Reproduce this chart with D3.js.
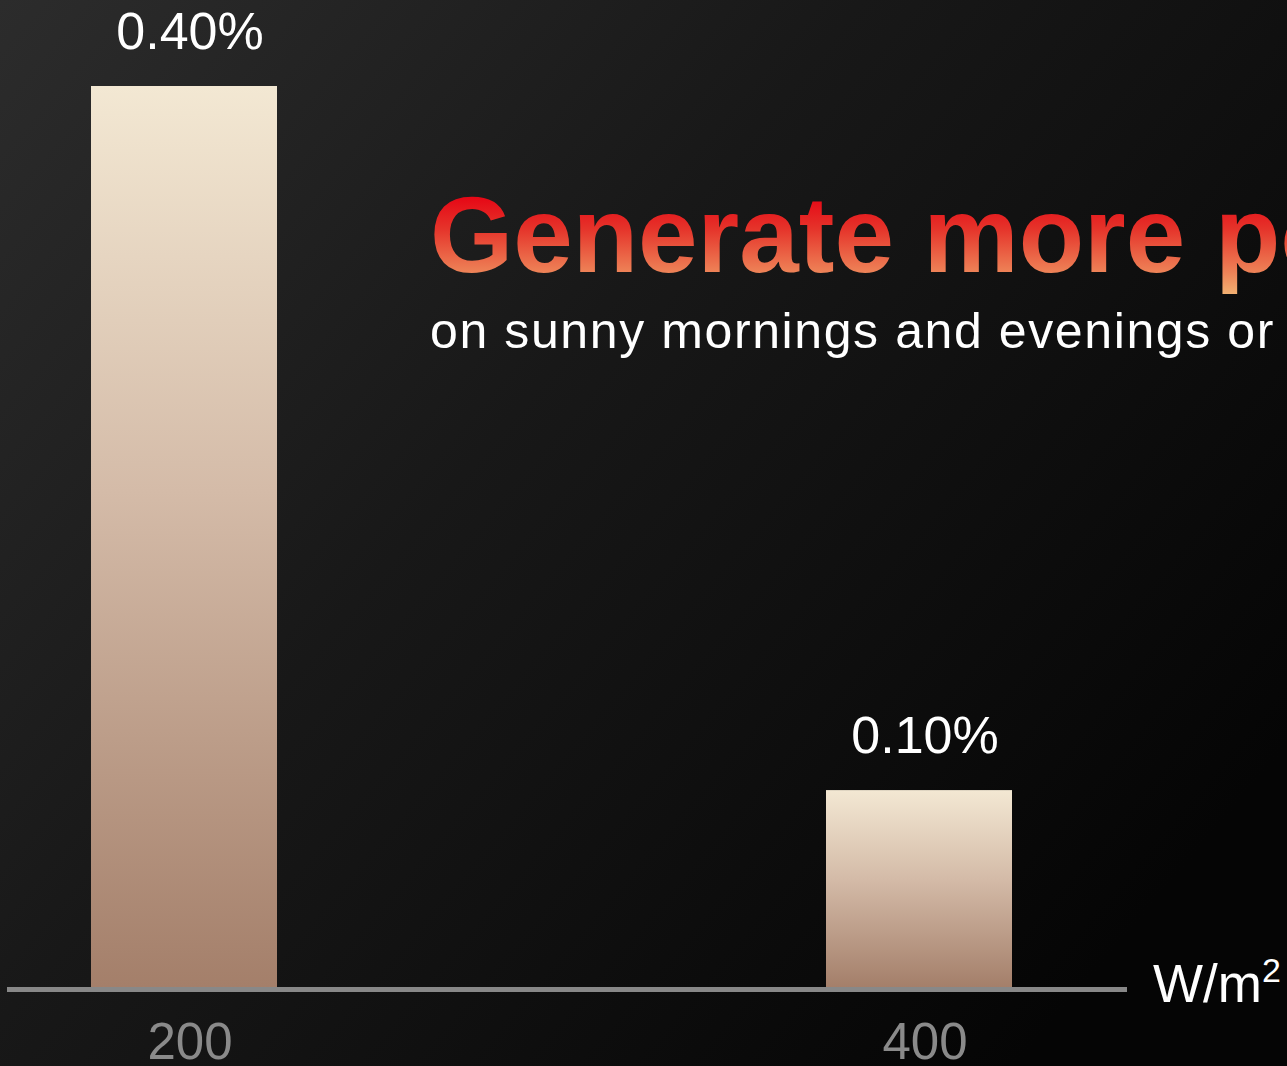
<!DOCTYPE html>
<html>
<head>
<meta charset="utf-8">
<script src="https://cdn.jsdelivr.net/npm/d3@7"></script>
<style>
  html, body { margin: 0; padding: 0; background: #111; }
  svg { display: block; font-family: "Liberation Sans", Arial, sans-serif; }
</style>
</head>
<body>
<svg width="1287" height="1066"></svg>
<script>
const categories = ["200", "400"];
const values = [0.40, 0.10];
const valueLabels = ["0.40%", "0.10%"];
const unitLabel = "W/m";
const title = "Generate more power";
const subtitle = "on sunny mornings and evenings or on cloudy days";

const svg = d3.select("svg"),
  W = 1287, H = 1066,
  baseY = 987;

const defs = svg.append("defs");

// background
const bg = defs.append("linearGradient").attr("id", "bg")
  .attr("x1", 0).attr("y1", 0).attr("x2", 1).attr("y2", 0.7);
bg.append("stop").attr("offset", 0).attr("stop-color", "#2c2c2c");
bg.append("stop").attr("offset", 0.45).attr("stop-color", "#181818");
bg.append("stop").attr("offset", 1).attr("stop-color", "#050505");
svg.append("rect").attr("width", W).attr("height", H).attr("fill", "url(#bg)");

const barGrad = defs.append("linearGradient").attr("id", "bar")
  .attr("x1", 0).attr("y1", 0).attr("x2", 0).attr("y2", 1);
barGrad.append("stop").attr("offset", 0).attr("stop-color", "#f3e8d3");
barGrad.append("stop").attr("offset", 0.45).attr("stop-color", "#d4bba8");
barGrad.append("stop").attr("offset", 1).attr("stop-color", "#a47f6a");

const titleGrad = defs.append("linearGradient").attr("id", "title")
  .attr("gradientUnits", "userSpaceOnUse")
  .attr("x1", 0).attr("y1", 192).attr("x2", 0).attr("y2", 296);
titleGrad.append("stop").attr("offset", 0).attr("stop-color", "#e60012");
titleGrad.append("stop").attr("offset", 0.35).attr("stop-color", "#e5332a");
titleGrad.append("stop").attr("offset", 0.78).attr("stop-color", "#ee8458");
titleGrad.append("stop").attr("offset", 1).attr("stop-color", "#f2b474");

const x = d3.scaleBand()
  .domain(categories)
  .range([91, 1012])
  .paddingInner(1 - 186 / 735)
  .paddingOuter(0);

// domain floor picked so both bars land where the picture has them
const y = d3.scaleLinear()
  .domain([0.0161, 0.40])
  .range([baseY, 86]);

// title block
svg.append("text")
  .attr("x", 430).attr("y", 272)
  .attr("font-size", 107).attr("font-weight", "bold")
  .attr("fill", "url(#title)")
  .text(title);
svg.append("text")
  .attr("x", 430).attr("y", 348)
  .attr("font-size", 50).attr("letter-spacing", 1.6)
  .attr("fill", "#ffffff")
  .text(subtitle);

// bars
svg.selectAll("rect.bar")
  .data(values)
  .join("rect")
  .attr("class", "bar")
  .attr("x", (d, i) => x(categories[i]))
  .attr("y", d => y(d))
  .attr("width", x.bandwidth())
  .attr("height", d => baseY - y(d))
  .attr("fill", "url(#bar)");

svg.selectAll("text.val")
  .data(values)
  .join("text")
  .attr("class", "val")
  .attr("x", (d, i) => x(categories[i]) + x.bandwidth() / 2 + 6)
  .attr("y", d => y(d) - 37)
  .attr("text-anchor", "middle")
  .attr("font-size", 52)
  .attr("fill", "#ffffff")
  .text((d, i) => valueLabels[i]);

// axis
const axis = svg.append("g")
  .attr("transform", "translate(0," + (baseY + 2.5) + ")")
  .call(d3.axisBottom(x).tickSize(0).tickPadding(33));
axis.select(".domain")
  .attr("d", "M7,0H1127")
  .attr("stroke", "#888888").attr("stroke-width", 5);
axis.selectAll(".tick text")
  .attr("font-family", "Liberation Sans, Arial, sans-serif")
  .attr("font-size", 51)
  .attr("fill", "#8a8a8a")
  .attr("dx", 6)
  .attr("dy", "0.72em");

const unit = svg.append("text")
  .attr("x", 1153).attr("y", 1002)
  .attr("font-size", 53).attr("fill", "#ffffff")
  .text(unitLabel);
unit.append("tspan")
  .attr("font-size", 34).attr("dy", -20)
  .text("2");
</script>
</body>
</html>
